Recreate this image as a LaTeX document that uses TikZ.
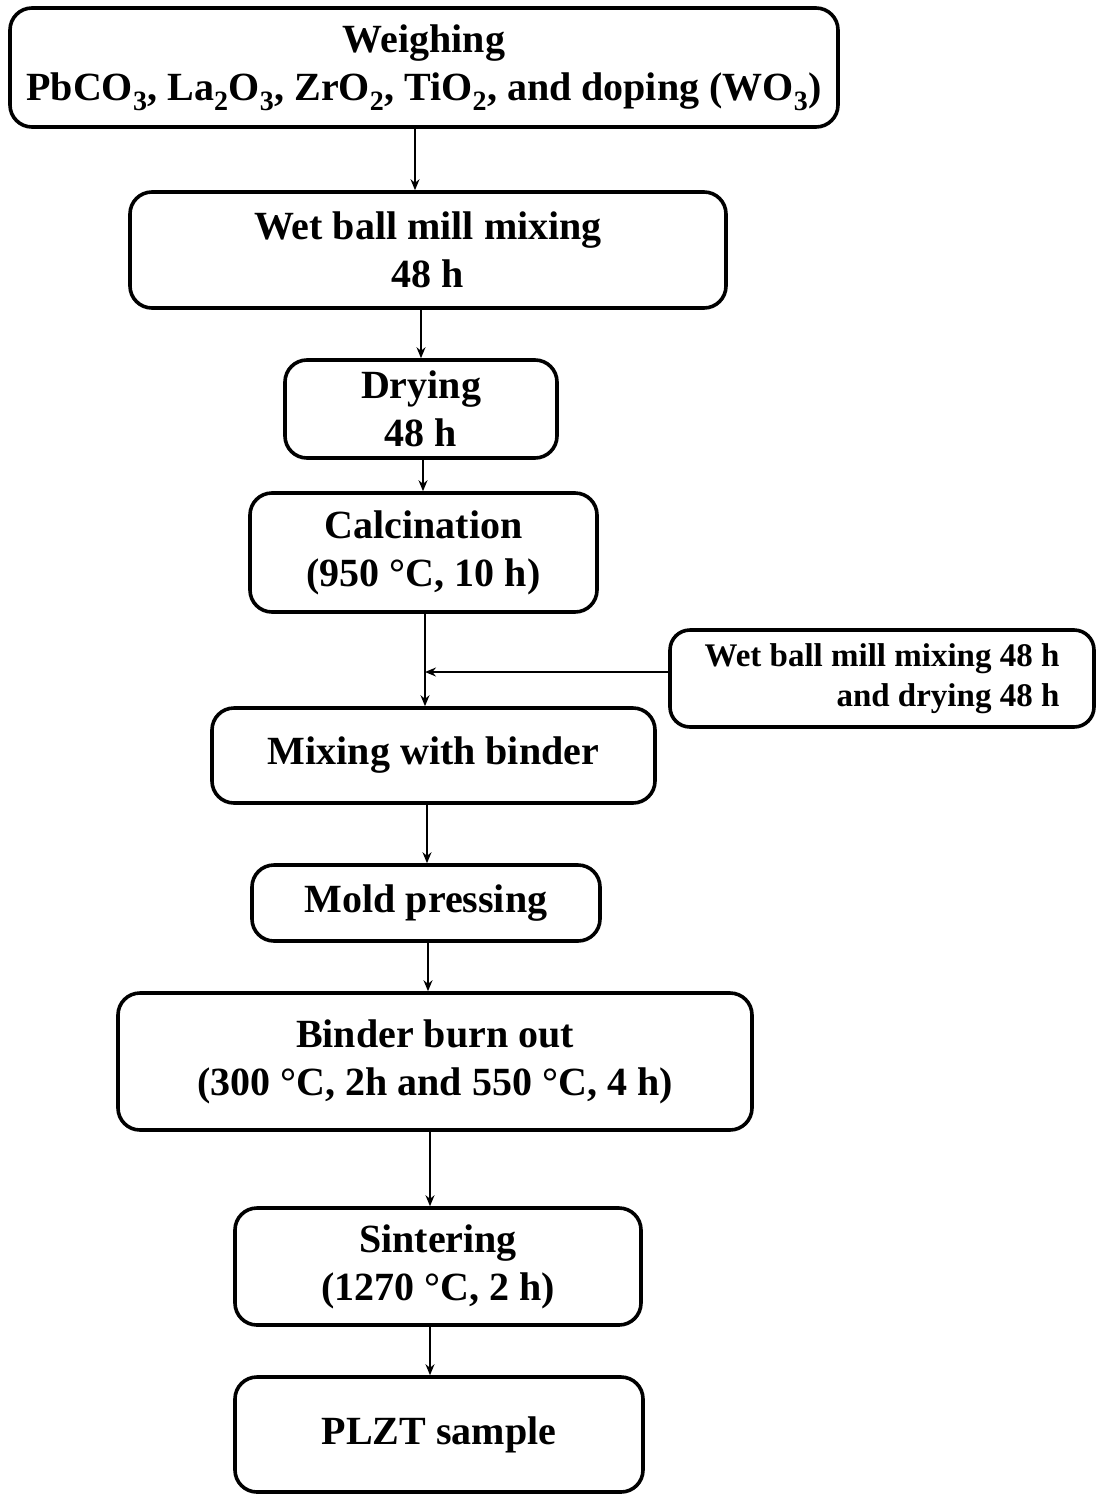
\documentclass[tikz,border=0pt]{standalone}
\usepackage{fontspec}
\setmainfont{Liberation Serif}
\usetikzlibrary{arrows.meta}
\tikzset{
  box/.style={draw=black, line width=3.6pt, rounded corners=22pt, inner sep=0pt,
    align=center, font=\bfseries\fontsize{40}{48}\selectfont},
  sidebox/.style={draw=black, line width=3.6pt, rounded corners=20pt, inner sep=0pt,
    align=right, font=\bfseries\fontsize{33}{40}\selectfont},
  arr/.style={line width=1.5pt, -{Stealth[length=11pt,width=9pt]}},
}
\begin{document}
\begin{tikzpicture}[x=1pt,y=-1pt]
\useasboundingbox (0,0) rectangle (1096,1494);
\node[box, minimum width=828pt, minimum height=119pt] (w1) at (424,67.5)
  {Weighing\\PbCO\textsubscript{3}, La\textsubscript{2}O\textsubscript{3}, ZrO\textsubscript{2}, TiO\textsubscript{2}, and doping (WO\textsubscript{3})};
\node[box, minimum width=596pt, minimum height=116pt] (w2) at (428,250)
  {Wet ball mill mixing\\48 h};
\node[box, minimum width=272pt, minimum height=98pt] (w3) at (421,409)
  {Drying\\48 h};
\node[box, minimum width=347pt, minimum height=119pt] (w4) at (423.5,552.5)
  {Calcination\\(950 °C, 10 h)};
\node[sidebox, minimum width=424pt, minimum height=97pt] (s) at (882,678.5)
  {Wet ball mill mixing 48 h\\and drying 48 h};
\node[box, minimum width=443pt, minimum height=95pt] (w5) at (433.5,755.5)
  {Mixing with binder};
\node[box, minimum width=348pt, minimum height=76pt] (w6) at (426,903)
  {Mold pressing};
\node[box, minimum width=634pt, minimum height=137pt] (w7) at (435,1061.5)
  {Binder burn out\\(300 °C, 2h and 550 °C, 4 h)};
\node[box, minimum width=406pt, minimum height=117pt] (w8) at (438,1266.5)
  {Sintering\\(1270 °C, 2 h)};
\node[box, minimum width=408pt, minimum height=115pt] (w9) at (439,1434.5)
  {PLZT sample};
\coordinate (a1) at (415,0);
\coordinate (a2) at (421,0);
\coordinate (a3) at (423,0);
\coordinate (a4) at (425,0);
\coordinate (a5) at (427,0);
\coordinate (a6) at (428,0);
\coordinate (a7) at (430,0);
\coordinate (a8) at (430,0);
\coordinate (j) at (425,672);
\draw[arr] (w1.south -| a1) -- (w2.north -| a1);
\draw[arr] (w2.south -| a2) -- (w3.north -| a2);
\draw[arr] (w3.south -| a3) -- (w4.north -| a3);
\draw[arr] (w4.south -| a4) -- (w5.north -| a4);
\draw[arr] (s.west |- j) -- (j);
\draw[arr] (w5.south -| a5) -- (w6.north -| a5);
\draw[arr] (w6.south -| a6) -- (w7.north -| a6);
\draw[arr] (w7.south -| a7) -- (w8.north -| a7);
\draw[arr] (w8.south -| a8) -- (w9.north -| a8);
\end{tikzpicture}
\end{document}
